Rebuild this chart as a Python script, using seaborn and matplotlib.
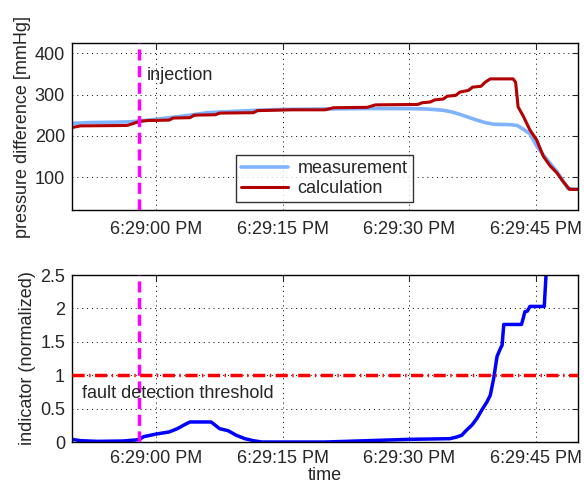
import matplotlib
matplotlib.use("Agg")
import matplotlib.pyplot as plt
import seaborn as sns
import numpy as np
import pandas as pd

# time in seconds after 6:28:50 PM
meas_t = [0, 2, 5, 7, 8, 10, 12, 14, 16, 18, 20, 22, 25, 30, 35, 40, 42, 44, 45, 46, 47, 48, 49, 50, 52, 52.8,
          53.5, 54.3, 55.1, 55.9, 56.7, 57.5, 58.3, 58.8, 60]
meas_v = [230, 232, 233, 234, 236, 240, 245, 250, 256, 258, 260, 262, 264, 265, 266, 266, 265, 262, 258, 252,
          245, 238, 232, 228, 227, 225, 216, 205, 175, 153, 133, 113, 88, 72, 70]

calc_t = [0, 1, 6.5, 7, 8, 9, 11.5, 12, 14, 14.5, 17, 17.5, 21.5, 22, 26, 30, 31, 35, 36, 41, 41.5, 42.5, 43,
          44, 44.5, 45.5, 46, 47, 47.5, 48.5, 49, 49.6, 52.3, 52.6, 52.9, 53.5, 54.3, 55.1, 55.9, 56.7, 57.5,
          58.2, 59.0, 60]
calc_v = [220, 224, 225, 228, 235, 237, 238, 243, 244, 250, 251, 255, 256, 261, 263, 263, 268, 269, 275, 276,
          280, 282, 287, 289, 296, 298, 306, 310, 318, 320, 330, 338, 338, 330, 270, 248, 214, 190, 150, 127,
          110, 90, 70, 70]

ind_t = [0, 1, 3, 6, 7.5, 8, 8.5, 10, 11.5, 12.5, 13.5, 14, 16.5, 17, 17.5, 18.5, 19.5, 20.5, 21.5, 22.5, 30,
         35, 40, 44.8, 45.5, 46.2, 46.8, 47.4, 48, 48.6, 49.2, 49.6, 50, 50.4, 50.8, 51.0, 51.2, 53.3, 53.5,
         53.7, 54.0, 54.3, 56.0, 56.3]
ind_v = [0.04, 0.02, 0.01, 0.015, 0.03, 0.04, 0.08, 0.12, 0.15, 0.2, 0.27, 0.3, 0.3, 0.25, 0.2, 0.17, 0.1, 0.05,
         0.02, 0.0, 0.0, 0.02, 0.04, 0.05, 0.07, 0.1, 0.18, 0.25, 0.35, 0.48, 0.6, 0.7, 0.95, 1.28, 1.4, 1.45,
         1.76, 1.76, 1.85, 1.95, 1.96, 2.03, 2.03, 2.7]

tick_pos = [10, 25, 40, 55]
tick_labels = ["6:29:00 PM", "6:29:15 PM", "6:29:30 PM", "6:29:45 PM"]
injection_t = 8
threshold = 1.0

sns.set_style("white")
plt.rcParams['font.family'] = ['Liberation Sans', 'DejaVu Sans']
plt.rcParams['font.size'] = 13

fig = plt.figure(figsize=(5.84, 4.86), dpi=100)
ax1 = fig.add_axes([0.1233, 0.5679, 0.8664, 0.3436])
ax2 = fig.add_axes([0.1233, 0.0905, 0.8664, 0.3436])

df_m = pd.DataFrame({"t": meas_t, "v": meas_v})
df_c = pd.DataFrame({"t": calc_t, "v": calc_v})
df_i = pd.DataFrame({"t": ind_t, "v": ind_v})

sns.lineplot(data=df_m, x="t", y="v", ax=ax1, color="#80b3ff", lw=2.6, label="measurement",
             estimator=None, sort=False)
sns.lineplot(data=df_c, x="t", y="v", ax=ax1, color="#b30000", lw=2.2, label="calculation",
             estimator=None, sort=False)
ax1.axvline(injection_t, color="#ff00ff", lw=2.5, dashes=(3.2, 1.6), zorder=3)
ax1.text(injection_t + 0.9, 347, "injection", fontsize=13, va="center", ha="left")

sns.lineplot(data=df_i, x="t", y="v", ax=ax2, color="#0000ff", lw=2.5, estimator=None, sort=False,
             legend=False)
ax2.axvline(injection_t, color="#ff00ff", lw=2.5, dashes=(3.2, 1.6), zorder=3)
ax2.axhline(threshold, color="#ff0000", lw=2.5, dashes=(3.5, 1.3, 0.4, 1.3), zorder=3)
ax2.text(1.2, 0.73, "fault detection threshold", fontsize=13, va="center", ha="left")

for ax in (ax1, ax2):
    ax.set_xlim(0, 60)
    ax.set_xticks(tick_pos)
    ax.set_xticklabels(tick_labels)
    ax.grid(True, color="black", linestyle=(0, (1, 4)), lw=0.7)
    ax.tick_params(direction="in", length=4, width=0.8, top=True, right=True, labelsize=13)
    ax.tick_params(axis="y", pad=5)
    for s in ax.spines.values():
        s.set_visible(True)
        s.set_color("black")
        s.set_linewidth(1.0)

ax1.tick_params(axis="x", pad=8)
ax2.tick_params(axis="x", pad=6)

ax1.set_ylim(20, 425)
ax1.set_yticks([100, 200, 300, 400])
ax1.set_xlabel("")
ax1.set_ylabel("pressure difference [mmHg]", fontsize=13, labelpad=3)

ax2.set_ylim(0, 2.5)
ax2.set_yticks([0, 0.5, 1, 1.5, 2, 2.5])
ax2.set_yticklabels(["0", "0.5", "1", "1.5", "2", "2.5"])
ax2.set_xlabel("time", fontsize=13, labelpad=0)
ax2.set_ylabel("indicator (normalized)", fontsize=13, labelpad=3)

leg = ax1.legend(loc="lower left", bbox_to_anchor=(0.324, 0.045), frameon=True, fancybox=False,
                 edgecolor="black", fontsize=13, handlelength=2.6, borderpad=0.3, labelspacing=0.15,
                 handletextpad=0.5, borderaxespad=0)
leg.get_frame().set_linewidth(1.0)

fig.align_ylabels([ax1, ax2])
fig.savefig("out.png", dpi=100)
